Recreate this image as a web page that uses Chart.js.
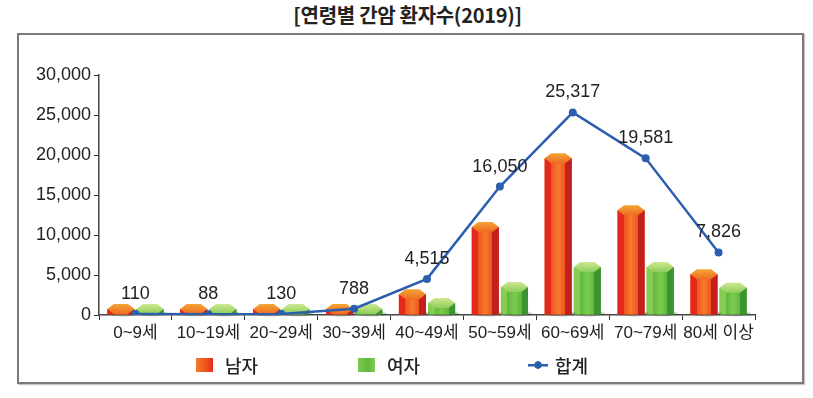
<!DOCTYPE html>
<html>
<head>
<meta charset="utf-8">
<script src="https://cdn.jsdelivr.net/npm/chart.js@4.4.1/dist/chart.umd.min.js"></script>
<style>
    body { margin: 0; background: #fff; width: 813px; height: 398px; overflow: hidden; position: relative; }
    #frame { position: absolute; left: 17px; top: 33px; width: 783px; height: 347px; border: 2px solid #7a7a7a; box-shadow: 1px 1px 1px #c8c8c8; }
    #title { position: absolute; left: 0; top: 0px; width: 815px; text-align: center; font: bold 20px 'Noto Sans CJK KR', sans-serif; color: #222; letter-spacing: -0.3px; }
    #chart { position: absolute; left: 0; top: 0; }
    .lg { position: absolute; top: 353px; height: 24px; display: flex; align-items: center; font: 500 18px 'Noto Sans CJK KR', sans-serif; color: #222; }
    .lg i { display: inline-block; margin-right: 12px; }
</style>
</head>
<body>
<div id="frame"></div>
<div id="title">[연령별 간암 환자수(2019)]</div>
<canvas id="chart" width="813" height="398"></canvas>
<div id="legend"></div>

<script>
// --- datos ---
const ageGroups = ['0~9세', '10~19세', '20~29세', '30~39세', '40~49세', '50~59세', '60~69세', '70~79세', '80세 이상'];
const maleCounts = [60, 50, 90, 600, 2600, 11000, 19600, 13100, 5100];
const femaleCounts = [50, 38, 40, 188, 1500, 3500, 6000, 6000, 3400];
const totalCounts = [110, 88, 130, 788, 4515, 16050, 25317, 19581, 7826];
const seriesNames = ['남자', '여자', '합계'];
const yTicks = [0, 5000, 10000, 15000, 20000, 25000, 30000];

const LINE_BLUE = '#2b5eae';
const numFont = "'Liberation Sans', 'Noto Sans CJK KR', sans-serif";

const prismMale = { side1: '#e4281c', front1: '#f0521f', front2: '#f57b2c', side2: '#c31f1b', capTop: '#f4a636', capBottom: '#ef6b20' };
const prismFemale = { side1: '#86cb52', front1: '#5fb83b', front2: '#7ccb4e', side2: '#3c9430', capTop: '#cde98f', capBottom: '#8fcd5c' };

// barras tipo prisma hexagonal (se dibujan sobre la barra que ubica Chart.js)
const prismPlugin = {
    id: 'prism',
    afterDatasetDraw(chart, args) {
        const ds = chart.data.datasets[args.index];
        if (!ds.prism) return;
        const ctx = chart.ctx;
        const p = ds.prism;
        ctx.save();
        args.meta.data.forEach(bar => {
            const { x, y, base, width } = bar.getProps(['x', 'y', 'base', 'width'], true);
            const l = x - width / 2, r = x + width / 2;
            const capH = 10, e = width * 0.24;

            // sombra en la base
            ctx.fillStyle = 'rgba(0,0,0,0.18)';
            ctx.beginPath();
            ctx.ellipse(x + 2, base - 1, width / 2 + 2, 3, 0, 0, Math.PI * 2);
            ctx.fill();

            const g = ctx.createLinearGradient(l, 0, r, 0);
            g.addColorStop(0, p.side1); g.addColorStop(0.24, p.side1);
            g.addColorStop(0.24, p.front1); g.addColorStop(0.5, p.front2); g.addColorStop(0.76, p.front1);
            g.addColorStop(0.76, p.side2); g.addColorStop(1, p.side2);
            ctx.fillStyle = g;
            ctx.fillRect(l, y, width, base - y);

            const cg = ctx.createLinearGradient(0, y - capH / 2, 0, y + capH / 2);
            cg.addColorStop(0, p.capTop);
            cg.addColorStop(1, p.capBottom);
            ctx.fillStyle = cg;
            ctx.beginPath();
            ctx.moveTo(l, y);
            ctx.lineTo(l + e, y - capH / 2);
            ctx.lineTo(r - e, y - capH / 2);
            ctx.lineTo(r, y);
            ctx.lineTo(r - e, y + capH / 2);
            ctx.lineTo(l + e, y + capH / 2);
            ctx.closePath();
            ctx.fill();
        });
        ctx.restore();
    }
};

// etiquetas del total sobre cada punto
const totalLabels = {
    id: 'totalLabels',
    afterDatasetsDraw(chart) {
        const idx = chart.data.datasets.findIndex(d => d.type === 'line');
        const meta = chart.getDatasetMeta(idx);
        const ctx = chart.ctx;
        ctx.save();
        ctx.font = '18px ' + numFont;
        ctx.fillStyle = '#222';
        ctx.textAlign = 'center';
        ctx.textBaseline = 'bottom';
        meta.data.forEach((pt, i) => {
            ctx.fillText(totalCounts[i].toLocaleString('en-US'), pt.x, pt.y - 11);
        });
        ctx.restore();
    }
};

const ctx = document.getElementById('chart').getContext('2d');
const chart = new Chart(ctx, {
    type: 'bar',
    data: {
        labels: ageGroups,
        datasets: [
            { label: seriesNames[0], data: maleCounts, backgroundColor: '#f0521f', prism: prismMale, order: 1, minBarLength: 6, categoryPercentage: 0.8, barPercentage: 0.93 },
            { label: seriesNames[1], data: femaleCounts, backgroundColor: '#5fb83b', prism: prismFemale, order: 1, minBarLength: 6, categoryPercentage: 0.8, barPercentage: 0.93 },
            { type: 'line', label: seriesNames[2], data: totalCounts, borderColor: LINE_BLUE, backgroundColor: LINE_BLUE, borderWidth: 2.5, pointRadius: 4, pointBackgroundColor: LINE_BLUE, pointBorderWidth: 0, tension: 0, order: 0 }
        ]
    },
    options: {
        responsive: false,
        animation: false,
        layout: { padding: { left: 0, right: 58, top: 75, bottom: 53 } },
        plugins: {
            legend: { display: false },
            title: { display: false },
            tooltip: { enabled: false }
        },
        scales: {
            x: {
                afterFit: s => { s.height = 30; },
                grid: { display: true, drawOnChartArea: false, drawTicks: true, tickLength: 5, color: '#333', offset: true },
                border: { display: true, color: '#444', width: 1.5 },
                ticks: { color: '#222', font: { size: 17, family: numFont }, padding: 3, maxRotation: 0, autoSkip: false }
            },
            y: {
                min: 0,
                max: 30000,
                afterFit: s => { s.width = 99; },
                afterBuildTicks: s => { s.ticks = yTicks.map(v => ({ value: v })); },
                grid: { display: true, drawOnChartArea: false, drawTicks: true, tickLength: 5, color: '#333' },
                border: { display: true, color: '#444', width: 1.5 },
                ticks: { color: '#222', font: { size: 18, family: numFont }, padding: 3, callback: v => v.toLocaleString('en-US') }
            }
        }
    },
    plugins: [prismPlugin, totalLabels]
});

// leyenda en HTML, a partir de los datasets
const legendLeft = [196, 358, 528];
const legendDiv = document.getElementById('legend');
chart.data.datasets.forEach((ds, i) => {
    const item = document.createElement('div');
    item.className = 'lg';
    item.style.left = legendLeft[i] + 'px';
    const icon = document.createElement('i');
    if (ds.type === 'line') {
        icon.style.cssText = 'width:20px;height:12px;margin-right:7px;background:linear-gradient(' + LINE_BLUE + ',' + LINE_BLUE + ') center/20px 2.5px no-repeat, radial-gradient(circle, ' + LINE_BLUE + ' 3.5px, transparent 4px) center/12px 12px no-repeat;';
    } else {
        const c = ds.prism;
        icon.style.cssText = 'width:17px;height:14px;margin-right:12px;background:linear-gradient(90deg,' + c.front2 + ',' + c.front1 + ' 60%,' + c.side1 + ');';
    }
    item.appendChild(icon);
    item.appendChild(document.createTextNode(ds.label));
    legendDiv.appendChild(item);
});
</script>
</body>
</html>
